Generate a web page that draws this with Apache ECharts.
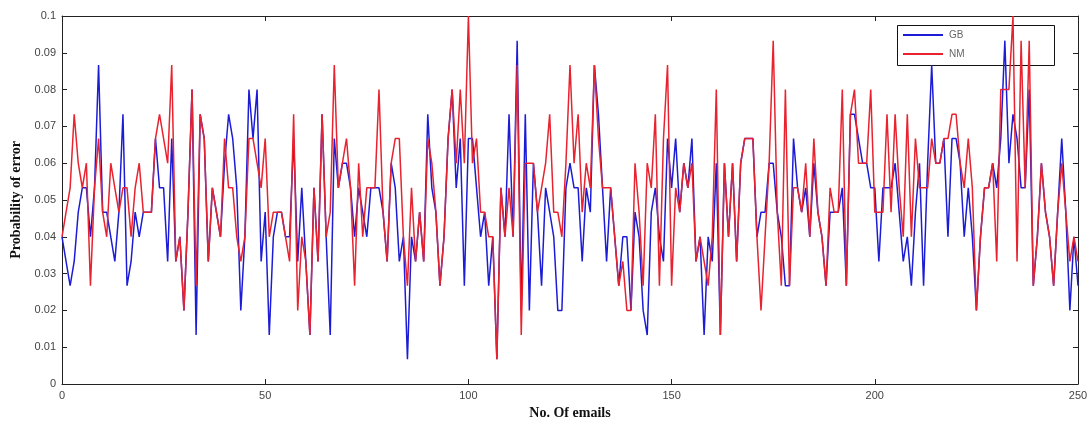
<!DOCTYPE html>
<html>
<head>
<meta charset="utf-8">
<script src="https://cdn.jsdelivr.net/npm/echarts@6/dist/echarts.min.js"></script>
<style>
  html, body { margin: 0; padding: 0; background: #fff; }
  #chart { width: 1091px; height: 426px; }
</style>
</head>
<body>
<div id="chart"></div>
<script>
// x tick labels
const xTicks = [0, 50, 100, 150, 200, 250]

// GB series, one value per email (0..250)
const gbValues = [
  0.04,0.0333,0.0267,0.0333,0.0467,0.0533,0.0533,0.04,0.0533,0.0867,0.0467,0.0467,0.04,0.0333,0.0467,0.0733,0.0267,0.0333,0.0467,0.04,0.0467,0.0467,0.0467,0.0667,0.0533,0.0533,
  0.0333,0.0667,0.0333,0.04,0.02,0.0467,0.08,0.0133,0.0733,0.0667,0.0333,0.0533,0.0467,0.04,0.06,0.0733,0.0667,0.0533,0.02,0.04,0.08,0.0667,0.08,0.0333,0.0467,
  0.0133,0.04,0.0467,0.0467,0.04,0.04,0.0667,0.0333,0.0533,0.0333,0.0133,0.0533,0.0333,0.0733,0.04,0.0133,0.0667,0.0533,0.06,0.06,0.0533,0.04,0.0533,0.0467,0.04,
  0.0533,0.0533,0.0533,0.0467,0.0333,0.06,0.0533,0.0333,0.04,0.0067,0.04,0.0333,0.0467,0.0333,0.0733,0.0533,0.0467,0.0267,0.04,0.0667,0.08,0.0533,0.0667,0.0267,0.0667,
  0.0667,0.0533,0.04,0.0467,0.0267,0.04,0.0067,0.0533,0.04,0.0733,0.04,0.0933,0.02,0.0733,0.02,0.06,0.0467,0.0267,0.0533,0.0467,0.04,0.02,0.02,
  0.0533,0.06,0.0533,0.0533,0.0333,0.0533,0.0467,0.0867,0.0733,0.0533,0.0333,0.0533,0.04,0.0267,0.04,0.04,0.02,0.0467,0.04,0.02,0.0133,0.0467,0.0533,0.04,0.0333,
  0.0667,0.0533,0.0667,0.0467,0.06,0.0533,0.0667,0.0333,0.04,0.0133,0.04,0.0333,0.06,0.0133,0.06,0.04,0.06,0.0333,0.06,0.0667,0.0667,0.0667,0.04,0.0467,0.0467,
  0.06,0.06,0.0467,0.04,0.0267,0.0267,0.0667,0.0533,0.0467,0.0533,0.04,0.06,0.0467,0.04,0.0267,0.0467,0.0467,0.0467,0.0533,0.0267,0.0733,0.0733,0.0667,0.06,0.06,
  0.0533,0.0533,0.0333,0.0533,0.0533,0.0533,0.06,0.0467,0.0333,0.04,0.0267,0.0467,0.06,0.0267,0.06,0.0867,0.06,0.06,0.0667,0.04,0.0667,
  0.0667,0.06,0.04,0.0533,0.04,0.02,0.04,0.0533,0.0533,0.06,0.0533,0.0667,0.0933,0.06,0.0733,0.0667,0.0533,0.0533,0.08,0.0267,0.04,0.06,0.0467,0.04,0.0267,0.0467,0.0667,0.0467,0.02,0.04,0.0267
]

// NM series
const nmValues = [
  0.04,0.0467,0.0533,0.0733,0.06,0.0533,0.06,0.0267,0.0533,0.0667,0.0467,0.04,0.06,0.0533,0.0467,0.0533,0.0533,0.04,0.0533,0.06,0.0467,0.0467,0.0467,0.0667,0.0733,0.0667,
  0.06,0.0867,0.0333,0.04,0.02,0.0467,0.08,0.0267,0.0733,0.0667,0.0333,0.0533,0.0467,0.04,0.0667,0.0533,0.0533,0.04,0.0333,0.04,0.0667,0.0667,0.06,0.0533,0.0667,
  0.04,0.0467,0.0467,0.0467,0.04,0.0333,0.0733,0.02,0.04,0.0333,0.0133,0.0533,0.0333,0.0733,0.04,0.0467,0.0867,0.0533,0.06,0.0667,0.0533,0.0267,0.06,0.04,0.0533,
  0.0533,0.0533,0.08,0.0467,0.0333,0.06,0.0667,0.0667,0.04,0.0267,0.0533,0.0333,0.0467,0.0333,0.0667,0.06,0.0467,0.0267,0.04,0.0667,0.08,0.06,0.08,0.06,0.1,
  0.06,0.0667,0.0467,0.0467,0.04,0.04,0.0067,0.0533,0.04,0.0533,0.04,0.0867,0.0133,0.06,0.06,0.06,0.0467,0.0533,0.06,0.0733,0.0467,0.0467,0.04,
  0.06,0.0867,0.06,0.0733,0.0467,0.06,0.0533,0.0867,0.0667,0.0533,0.0533,0.0533,0.04,0.0267,0.0333,0.02,0.02,0.06,0.0467,0.0267,0.06,0.0533,0.0733,0.0267,0.0667,
  0.0867,0.0267,0.0533,0.0467,0.06,0.0533,0.06,0.0333,0.04,0.0333,0.0267,0.04,0.08,0.0133,0.06,0.04,0.06,0.0333,0.06,0.0667,0.0667,0.0667,0.04,0.02,0.04,
  0.06,0.0933,0.0467,0.0267,0.08,0.0267,0.0533,0.0533,0.0467,0.06,0.04,0.0667,0.0467,0.04,0.0267,0.0533,0.0467,0.0467,0.08,0.0267,0.0733,0.08,0.06,0.06,0.06,
  0.08,0.0467,0.0467,0.0467,0.0733,0.0467,0.0733,0.0533,0.04,0.0733,0.04,0.0667,0.0533,0.0533,0.0533,0.0667,0.06,0.06,0.0667,0.0667,0.0733,
  0.0733,0.06,0.0533,0.0667,0.0533,0.02,0.04,0.0533,0.0533,0.06,0.0333,0.08,0.08,0.08,0.1,0.0333,0.0933,0.0533,0.0933,0.0267,0.04,0.06,0.0467,0.04,0.0267,0.0467,0.06,0.0467,0.0333,0.04,0.0333
]

// pair each value with its email number
function toPoints(values) {
  return values.map((v, i) => [i, v])
}

var myChart = echarts.init(document.getElementById('chart'))

const axisBase = {
  axisLine: { show: true, onZero: false, lineStyle: { color: '#222', width: 1 } },
  axisTick: { show: true, inside: true, length: 5, lineStyle: { color: '#222' } },
  splitLine: { show: false }
}

myChart.setOption({
  animation: false,
  backgroundColor: '#fff',
  grid: { left: 62, right: 13, top: 16, bottom: 42 },
  // legend box (MATLAB style, wider than its contents); lines pass over it
  graphic: [{
    type: 'rect',
    left: 897,
    top: 25,
    shape: { width: 157, height: 40 },
    style: { fill: 'rgba(255,255,255,0)', stroke: '#111', lineWidth: 1 },
    z: 0
  }],
  legend: {
    orient: 'vertical',
    left: 903,
    top: 30,
    padding: 0,
    itemGap: 9,
    itemWidth: 40,
    itemHeight: 2,
    icon: 'rect',
    textStyle: { fontSize: 10, color: '#666', fontFamily: 'Liberation Sans', padding: [0, 0, 0, 1] },
    data: ['GB', 'NM']
  },
  xAxis: [
    {
      ...axisBase,
      type: 'value',
      min: xTicks[0],
      max: xTicks[xTicks.length - 1],
      interval: 50,
      name: 'No. Of emails',
      nameLocation: 'middle',
      nameGap: 20,
      nameTextStyle: { fontFamily: 'Liberation Serif', fontWeight: 'bold', fontSize: 14, color: '#111' },
      axisLabel: { fontSize: 11, color: '#444', margin: 6, fontFamily: 'Liberation Sans' }
    },
    {
      ...axisBase,
      type: 'value',
      position: 'top',
      min: xTicks[0],
      max: xTicks[xTicks.length - 1],
      interval: 50,
      axisLabel: { show: false }
    }
  ],
  yAxis: [
    {
      ...axisBase,
      type: 'value',
      min: 0,
      max: 0.1,
      interval: 0.01,
      name: 'Probability of error',
      nameLocation: 'middle',
      nameGap: 38,
      nameTextStyle: { fontFamily: 'Liberation Serif', fontWeight: 'bold', fontSize: 14, color: '#111' },
      axisLabel: {
        fontSize: 11, color: '#444', margin: 6, fontFamily: 'Liberation Sans',
        formatter: v => String(+v.toFixed(2))
      }
    },
    {
      ...axisBase,
      type: 'value',
      position: 'right',
      min: 0,
      max: 0.1,
      interval: 0.01,
      axisLabel: { show: false }
    }
  ],
  series: [
    {
      name: 'GB',
      type: 'line',
      data: toPoints(gbValues),
      symbol: 'none',
      color: '#1c1cd6',
      lineStyle: { width: 1.5, color: '#1c1cd6' }
    },
    {
      name: 'NM',
      type: 'line',
      data: toPoints(nmValues),
      symbol: 'none',
      color: '#e8222e',
      lineStyle: { width: 1.5, color: '#e8222e' }
    }
  ]
})
</script>
</body>
</html>
